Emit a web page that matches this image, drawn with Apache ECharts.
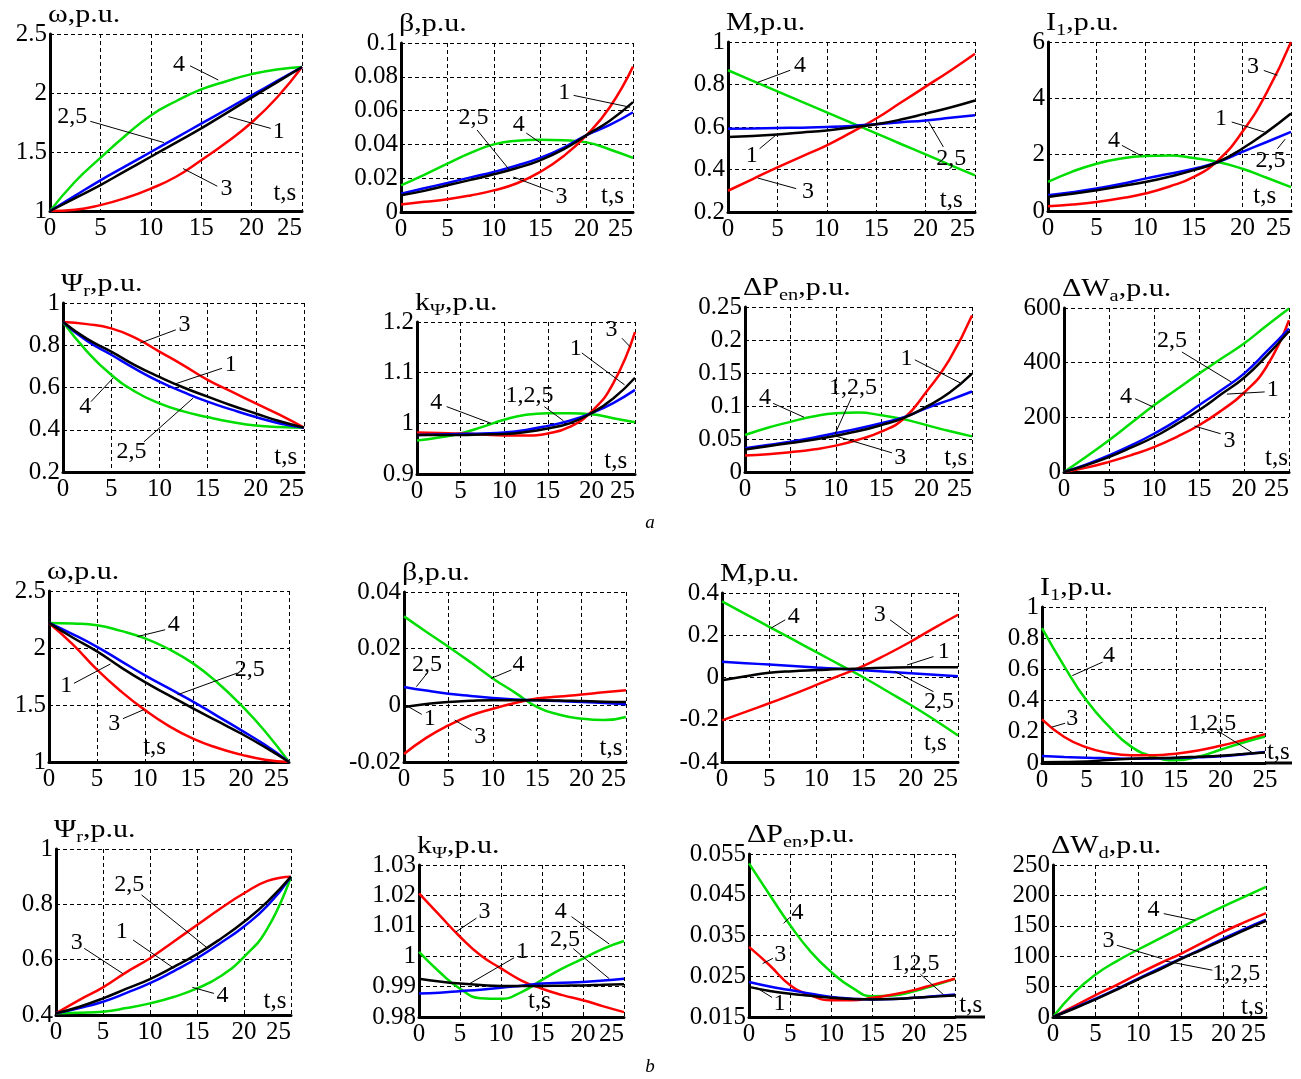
<!DOCTYPE html>
<html lang="en">
<head>
<meta charset="UTF-8" />
<title>Start-up and braking transients, variants 1-5</title>
<script src="https://cdn.jsdelivr.net/npm/echarts@6/dist/echarts.min.js"></script>
<style>
  html, body { margin: 0; padding: 0; background: #fff; }
  #main { width: 1301px; height: 1079px; }
</style>
</head>
<body>
<div id="main"></div>
<script>
// time points, s
const T = [0, 2.5, 5, 7.5, 10, 12.5, 15, 17.5, 20, 22.5, 25];

// ---- a) start-up ----
const omegaA_c1 = [1, 1.11, 1.22, 1.34, 1.46, 1.58, 1.70, 1.83, 1.96, 2.09, 2.22];
const omegaA_c25 = [1, 1.13, 1.26, 1.38, 1.50, 1.62, 1.74, 1.86, 1.98, 2.10, 2.22];
const omegaA_c3 = [1, 1.01, 1.05, 1.11, 1.19, 1.29, 1.43, 1.58, 1.75, 1.96, 2.22];
const omegaA_c4 = [1, 1.25, 1.45, 1.64, 1.81, 1.93, 2.03, 2.10, 2.16, 2.20, 2.22];

const betaA_c1 = [0.0099, 0.0125, 0.0158, 0.019, 0.0223, 0.026, 0.0306, 0.037, 0.0455, 0.054, 0.065];
const betaA_c25 = [0.0108, 0.014, 0.0172, 0.0205, 0.0237, 0.0275, 0.032, 0.038, 0.0455, 0.0515, 0.059];
const betaA_c3 = [0.0045, 0.006, 0.0075, 0.0098, 0.0128, 0.017, 0.0237, 0.033, 0.0455, 0.062, 0.086];
const betaA_c4 = [0.0158, 0.022, 0.0286, 0.035, 0.04, 0.0422, 0.0428, 0.0425, 0.0412, 0.037, 0.032];

const mA_c1 = [0.553, 0.558, 0.565, 0.574, 0.584, 0.598, 0.613, 0.635, 0.663, 0.692, 0.725];
const mA_c25 = [0.592, 0.593, 0.595, 0.597, 0.600, 0.605, 0.613, 0.622, 0.631, 0.643, 0.655];
const mA_c3 = [0.30, 0.355, 0.41, 0.462, 0.514, 0.575, 0.64, 0.715, 0.79, 0.865, 0.945];
const mA_c4 = [0.867, 0.817, 0.768, 0.718, 0.669, 0.619, 0.570, 0.520, 0.471, 0.421, 0.372];

const iA_c1 = [0.5, 0.61, 0.74, 0.88, 1.03, 1.22, 1.45, 1.74, 2.22, 2.8, 3.46];
const iA_c25 = [0.56, 0.67, 0.8, 0.96, 1.15, 1.32, 1.5, 1.74, 2.1, 2.45, 2.81];
const iA_c3 = [0.17, 0.23, 0.32, 0.45, 0.62, 0.87, 1.21, 1.8, 2.81, 4.2, 6.0];
const iA_c4 = [1.03, 1.4, 1.68, 1.86, 1.95, 1.97, 1.88, 1.74, 1.5, 1.18, 0.85];

const psiA_c1 = [0.91, 0.83, 0.77, 0.705, 0.65, 0.6, 0.557, 0.515, 0.477, 0.44, 0.41];
const psiA_c25 = [0.91, 0.82, 0.755, 0.688, 0.628, 0.578, 0.533, 0.495, 0.46, 0.43, 0.41];
const psiA_c3 = [0.91, 0.90, 0.88, 0.835, 0.77, 0.705, 0.636, 0.58, 0.525, 0.47, 0.41];
const psiA_c4 = [0.91, 0.77, 0.66, 0.58, 0.525, 0.487, 0.46, 0.437, 0.42, 0.413, 0.41];

const kA_c1 = [0.977, 0.977, 0.977, 0.978, 0.979, 0.983, 0.99, 1.0, 1.02, 1.049, 1.09];
const kA_c25 = [0.977, 0.978, 0.979, 0.98, 0.982, 0.987, 0.995, 1.005, 1.02, 1.04, 1.066];
const kA_c3 = [0.982, 0.981, 0.98, 0.978, 0.976, 0.976, 0.98, 0.993, 1.023, 1.079, 1.18];
const kA_c4 = [0.966, 0.972, 0.98, 0.993, 1.007, 1.017, 1.02, 1.02, 1.018, 1.01, 1.002];

const pA_c1 = [0.034, 0.039, 0.044, 0.049, 0.055, 0.062, 0.071, 0.082, 0.099, 0.12, 0.149];
const pA_c25 = [0.036, 0.041, 0.046, 0.052, 0.059, 0.066, 0.074, 0.083, 0.097, 0.109, 0.122];
const pA_c3 = [0.025, 0.027, 0.03, 0.034, 0.04, 0.049, 0.061, 0.081, 0.122, 0.17, 0.237];
const pA_c4 = [0.056, 0.067, 0.076, 0.084, 0.089, 0.09, 0.086, 0.08, 0.071, 0.062, 0.054];

const wA_c1 = [0, 25, 55, 90, 128, 175, 226, 285, 345, 425, 515];
const wA_c25 = [0, 28, 61, 98, 140, 188, 244, 300, 360, 440, 525];
const wA_c3 = [0, 16, 37, 62, 91, 128, 171, 225, 290, 385, 555];
const wA_c4 = [0, 57, 116, 180, 244, 302, 360, 415, 470, 535, 598];

// ---- b) braking ----
const omegaB_c1 = [2.22, 2.09, 1.97, 1.83, 1.70, 1.585, 1.47, 1.36, 1.25, 1.13, 1.0];
const omegaB_c25 = [2.22, 2.12, 2.01, 1.885, 1.76, 1.645, 1.53, 1.405, 1.28, 1.15, 1.0];
const omegaB_c3 = [2.22, 2.03, 1.81, 1.62, 1.455, 1.315, 1.205, 1.125, 1.065, 1.02, 1.0];
const omegaB_c4 = [2.22, 2.215, 2.2, 2.15, 2.085, 1.99, 1.865, 1.7, 1.5, 1.27, 1.0];

const betaB_c1 = [-0.0006, 0.0005, 0.0012, 0.0016, 0.0018, 0.0018, 0.0018, 0.0017, 0.0015, 0.0013, 0.0012];
const betaB_c25 = [0.0065, 0.0052, 0.0041, 0.0033, 0.0026, 0.0021, 0.0018, 0.0015, 0.0012, 0.0008, 0.0004];
const betaB_c3 = [-0.0172, -0.0115, -0.0071, -0.0036, -0.0012, 0.0008, 0.0024, 0.0031, 0.0038, 0.0046, 0.0053];
const betaB_c4 = [0.0314, 0.026, 0.0207, 0.0152, 0.0095, 0.0045, -0.0006, -0.0033, -0.0047, -0.0052, -0.0041];

const mB_c1 = [-0.013, 0.006, 0.022, 0.03, 0.035, 0.04, 0.043, 0.046, 0.048, 0.048, 0.048];
const mB_c25 = [0.075, 0.068, 0.061, 0.054, 0.047, 0.041, 0.034, 0.027, 0.02, 0.013, 0.006];
const mB_c3 = [-0.203, -0.163, -0.122, -0.08, -0.035, 0.01, 0.055, 0.11, 0.17, 0.235, 0.297];
const mB_c4 = [0.36, 0.3, 0.24, 0.18, 0.12, 0.06, 0.0, -0.065, -0.13, -0.2, -0.275];

const iB_c1 = [0.005, 0.006, 0.01, 0.02, 0.027, 0.031, 0.034, 0.04, 0.047, 0.057, 0.068];
const iB_c25 = [0.045, 0.039, 0.034, 0.031, 0.028, 0.029, 0.032, 0.037, 0.043, 0.055, 0.07];
const iB_c3 = [0.28, 0.167, 0.1, 0.064, 0.05, 0.05, 0.06, 0.08, 0.11, 0.146, 0.185];
const iB_c4 = [0.865, 0.62, 0.40, 0.235, 0.105, 0.04, 0.017, 0.04, 0.085, 0.13, 0.17];

const psiB_c1 = [0.406, 0.43, 0.46, 0.495, 0.53, 0.573, 0.62, 0.675, 0.737, 0.81, 0.9];
const psiB_c25 = [0.406, 0.425, 0.448, 0.48, 0.515, 0.558, 0.605, 0.66, 0.72, 0.795, 0.9];
const psiB_c3 = [0.406, 0.455, 0.5, 0.555, 0.605, 0.665, 0.725, 0.785, 0.84, 0.885, 0.9];
const psiB_c4 = [0.406, 0.408, 0.412, 0.425, 0.442, 0.465, 0.496, 0.54, 0.61, 0.713, 0.9];

const kB_c1 = [0.9926, 0.9917, 0.991, 0.9905, 0.9902, 0.9902, 0.9902, 0.9903, 0.9904, 0.9906, 0.9908];
const kB_c25 = [0.9877, 0.988, 0.9885, 0.989, 0.9896, 0.9903, 0.991, 0.9913, 0.9915, 0.992, 0.9926];
const kB_c3 = [1.0207, 1.0135, 1.0064, 1.0003, 0.996, 0.992, 0.9893, 0.9872, 0.9855, 0.9835, 0.9816];
const kB_c4 = [1.0014, 0.9948, 0.9893, 0.9862, 0.986, 0.9882, 0.9922, 0.996, 0.9992, 1.0025, 1.005];

const pB_c1 = [0.0224, 0.0214, 0.0207, 0.0202, 0.0197, 0.0194, 0.0193, 0.0194, 0.0197, 0.02, 0.0203];
const pB_c25 = [0.0236, 0.0225, 0.0216, 0.0207, 0.0199, 0.0195, 0.0193, 0.0194, 0.0197, 0.0201, 0.0205];
const pB_c3 = [0.0322, 0.0277, 0.0228, 0.0203, 0.0191, 0.0191, 0.0197, 0.0205, 0.0216, 0.023, 0.0244];
const pB_c4 = [0.0527, 0.045, 0.0375, 0.031, 0.026, 0.0222, 0.0201, 0.0203, 0.0213, 0.0228, 0.0244];

const wD_c1 = [0, 14, 29, 45, 62, 78, 95, 111, 127, 143, 158];
const wD_c25 = [0, 15, 30, 46, 63, 80, 96, 112, 129, 145, 160];
const wD_c3 = [0, 18, 36, 53, 71, 88, 104, 122, 140, 156, 171];
const wD_c4 = [0, 40, 70, 92, 111, 129, 147, 165, 182, 198, 214];

// curve labels: [text, label x, label y, leader from x, y, to x, y] in data units
const notesOmegaA = [['4', 12.8, 2.24, 13.9, 2.23, 16.7, 2.11], ['2,5', 2.2, 1.80, 4.0, 1.76, 11.3, 1.58], ['1', 22.7, 1.67, 21.9, 1.70, 17.7, 1.80], ['3', 17.5, 1.19, 16.6, 1.21, 13.2, 1.36]];
const notesBetaA = [['1', 17.6, 0.0704, 18.6, 0.069, 24.7, 0.062], ['2,5', 7.8, 0.056, 8.2, 0.0485, 11.7, 0.0248], ['4', 12.7, 0.0515, 13.5, 0.0467, 15, 0.041], ['3', 17.3, 0.0089, 16.4, 0.0118, 12.1, 0.0207]];
const notesMA = [['4', 7.3, 0.89, 6.3, 0.867, 3.0, 0.81], ['1', 2.4, 0.467, 3.2, 0.498, 4.8, 0.56], ['3', 8.1, 0.294, 6.9, 0.31, 3.0, 0.36], ['2,5', 22.6, 0.451, 21.8, 0.506, 20.3, 0.625]];
const notesIA = [['3', 21.1, 5.11, 22.2, 4.99, 23.6, 4.82], ['1', 17.8, 3.28, 18.9, 3.16, 22.3, 2.8], ['2,5', 22.9, 1.8, 23.6, 2.21, 24.4, 2.55], ['4', 6.8, 2.51, 7.6, 2.33, 9.6, 1.96]];
const notesPsiA = [['3', 12.6, 0.897, 11.7, 0.873, 8, 0.81], ['1', 17.4, 0.707, 16.5, 0.691, 11.5, 0.615], ['4', 2.3, 0.509, 2.9, 0.533, 5.2, 0.645], ['2,5', 7.1, 0.295, 8.4, 0.343, 13.5, 0.55]];
const notesKA = [['3', 22.3, 1.185, 23.5, 1.168, 24.5, 1.15], ['1', 18.2, 1.148, 18.9, 1.139, 23.8, 1.076], ['1,2,5', 12.9, 1.054, 14.6, 1.033, 16.8, 1.005], ['4', 2.2, 1.041, 3.4, 1.033, 8.5, 1.0]];
const notesPA = [['1', 17.8, 0.172, 18.7, 0.17, 23.7, 0.135], ['1,2,5', 11.9, 0.127, 11.7, 0.112, 9.9, 0.057], ['4', 2.2, 0.112, 3.1, 0.104, 6.5, 0.083], ['3', 17.1, 0.021, 16.2, 0.029, 10.1, 0.054]];
const notesWA = [['2,5', 12, 482, 13.1, 439, 18.6, 329], ['1', 23.2, 300, 22.3, 293, 18.1, 285], ['4', 6.9, 274, 7.9, 268, 9.9, 238], ['3', 18.4, 116, 17.4, 140, 14.5, 168]];
const notesOmegaB = [['4', 13, 2.2, 12.1, 2.16, 9.2, 2.1], ['2,5', 20.9, 1.81, 19.6, 1.78, 13.4, 1.59], ['1', 1.8, 1.67, 2.6, 1.69, 6.4, 1.86], ['3', 6.8, 1.34, 7.7, 1.38, 9.9, 1.46]];
const notesBetaB = [['2,5', 2.6, 0.0143, 2.6, 0.0113, 1.4, 0.0066], ['4', 12.9, 0.0143, 12.1, 0.0125, 9.8, 0.0095], ['1', 2.9, -0.0046, 2.0, -0.0032, 0.5, -0.0005], ['3', 8.6, -0.0111, 7.6, -0.0088, 5.7, -0.0052]];
const notesMB = [['4', 7.6, 0.289, 6.7, 0.273, 5.2, 0.234], ['3', 16.7, 0.297, 17.8, 0.273, 20.2, 0.194], ['1', 23.5, 0.123, 22.4, 0.099, 19.6, 0.059], ['2,5', 23, -0.115, 22.4, -0.067, 18.3, 0.028]];
const notesIB = [['4', 7.5, 0.685, 6.8, 0.647, 3.4, 0.56], ['3', 3.4, 0.287, 2.6, 0.255, 1.1, 0.23], ['1,2,5', 19.1, 0.25, 19.6, 0.21, 23.7, 0.062]];
const notesPsiB = [['2,5', 7.8, 0.87, 9.1, 0.834, 16, 0.645], ['1', 7.0, 0.70, 8.2, 0.671, 12.5, 0.57], ['3', 2.2, 0.66, 3.0, 0.641, 7.1, 0.55], ['4', 17.7, 0.468, 16.8, 0.478, 14.5, 0.5]];
const notesKB = [['3', 8, 1.0146, 7, 1.0125, 4.5, 1.008], ['1', 12.6, 1.0015, 11.6, 0.9995, 6.2, 0.991], ['4', 17.3, 1.0146, 18.6, 1.013, 23.2, 1.004], ['2,5', 17.8, 1.0053, 18.8, 1.0025, 23.2, 0.9926]];
const notesPB = [['4', 5.9, 0.0405, 5.0, 0.0395, 4.2, 0.038], ['3', 3.8, 0.0302, 2.9, 0.0294, 1.65, 0.0281], ['1', 3.7, 0.0182, 2.8, 0.0198, 0.9, 0.0222], ['1,2,5', 20.2, 0.028, 20.8, 0.0255, 23.6, 0.0205]];
const notesWD = [['4', 11.8, 177, 13, 170, 16.7, 159], ['3', 6.5, 126, 7.5, 118, 12.8, 96], ['1,2,5', 21.5, 71, 18.7, 77, 13.2, 92]];

const SERIF = '"Liberation Serif", "Times New Roman", serif';
const COLORS = ['#00dd00', '#ff0000', '#0000ff', '#000000']; // 4, 3, 2-5, 1

// rect = [left, top, width, height] of each plot box
const panels = [
  { title: '{m|ω,p.u.}', rect: [50, 34, 252, 177], y: [1, 2.5, 0.5], lines: [omegaA_c4, omegaA_c3, omegaA_c25, omegaA_c1], notes: notesOmegaA, ts: [23.3, 1.15] },
  { title: '{m|β,p.u.}', rect: [401, 43, 232, 169], y: [0, 0.1, 0.02], lines: [betaA_c4, betaA_c3, betaA_c25, betaA_c1], notes: notesBetaA, ts: [22.8, 0.009] },
  { title: '{m|M,p.u.}', rect: [728, 42, 247, 170], y: [0.2, 1, 0.2], lines: [mA_c4, mA_c3, mA_c25, mA_c1], notes: notesMA, ts: [22.6, 0.255] },
  { title: '{m|I}{s|1}{m|,p.u.}', rect: [1048, 42, 243, 169], y: [0, 6, 2], lines: [iA_c4, iA_c3, iA_c25, iA_c1], notes: notesIA, ts: [22.3, 0.5] },
  { title: '{m|Ψ}{s|r}{m|,p.u.}', rect: [63, 303, 241, 169], y: [0.2, 1, 0.2], lines: [psiA_c4, psiA_c3, psiA_c25, psiA_c1], notes: notesPsiA, ts: [23.1, 0.27] },
  { title: '{m|k}{s|Ψ}{m|,p.u.}', rect: [417, 322, 218, 152], y: [0.9, 1.2, 0.1], lines: [kA_c4, kA_c3, kA_c25, kA_c1], notes: notesKA, ts: [22.8, 0.924] },
  { title: '{m|ΔP}{s|en}{m|,p.u.}', rect: [745, 307, 227, 165], y: [0, 0.25, 0.05], lines: [pA_c4, pA_c3, pA_c25, pA_c1], notes: notesPA, ts: [23.2, 0.021] },
  { title: '{m|ΔW}{s|a}{m|,p.u.}', rect: [1064, 308, 225, 164], y: [0, 600, 200], lines: [wA_c4, wA_c3, wA_c25, wA_c1], notes: notesWA, ts: [23.6, 49] },
  { title: '{m|ω,p.u.}', rect: [49, 591, 240, 171], y: [1, 2.5, 0.5], lines: [omegaB_c4, omegaB_c3, omegaB_c25, omegaB_c1], notes: notesOmegaB, ts: [11, 1.13] },
  { title: '{m|β,p.u.}', rect: [404, 592, 222, 170], y: [-0.02, 0.04, 0.02], lines: [betaB_c4, betaB_c3, betaB_c25, betaB_c1], notes: notesBetaB, ts: [23.3, -0.0153] },
  { title: '{m|M,p.u.}', rect: [722, 593, 236, 169], y: [-0.4, 0.4, 0.2], lines: [mB_c4, mB_c3, mB_c25, mB_c1], notes: notesMB, ts: [22.6, -0.31] },
  { title: '{m|I}{s|1}{m|,p.u.}', rect: [1042, 607, 223, 156], y: [0, 1, 0.2], lines: [iB_c4, iB_c3, iB_c25, iB_c1], notes: notesIB, ts: [26.5, 0.07], ext: 27 },
  { title: '{m|Ψ}{s|r}{m|,p.u.}', rect: [56, 849, 235, 166], y: [0.4, 1, 0.2], lines: [psiB_c4, psiB_c3, psiB_c25, psiB_c1], notes: notesPsiB, ts: [23.3, 0.448] },
  { title: '{m|k}{s|Ψ}{m|,p.u.}', rect: [419, 865, 205, 152], y: [0.98, 1.03, 0.01], lines: [kB_c4, kB_c3, kB_c25, kB_c1], notes: notesKB, ts: [14.7, 0.985] },
  { title: '{m|ΔP}{s|en}{m|,p.u.}', rect: [749, 854, 206, 163], y: [0.015, 0.055, 0.01], lines: [pB_c4, pB_c3, pB_c25, pB_c1], notes: notesPB, ts: [26.9, 0.0179], ext: 30 },
  { title: '{m|ΔW}{s|d}{m|,p.u.}', rect: [1053, 865, 213, 152], y: [0, 250, 50], lines: [wD_c4, wD_c3, wD_c25, wD_c1], notes: notesWD, ts: [23.4, 16] }
];

const chart = echarts.init(document.getElementById('main'), null, { renderer: 'canvas' });

const axisLine = { show: true, onZero: false, lineStyle: { color: '#000', width: 3 } };
const splitLine = { show: true, lineStyle: { color: '#000', width: 1, type: [4, 3] } };
const tickFont = { color: '#000', fontSize: 25, fontFamily: SERIF };

const grid = [], xAxis = [], yAxis = [], series = [];
panels.forEach((p, i) => {
  const [l, t, w, h] = p.rect;
  grid.push({ left: l, top: t, width: w, height: h, containLabel: false, outerBoundsMode: 'none' });
  xAxis.push({
    type: 'value', gridIndex: i, min: 0, max: 25, interval: 5,
    axisLine, splitLine, axisTick: { show: false },
    axisLabel: Object.assign({ margin: 5, alignMaxLabel: p.ext ? 'center' : 'right' }, tickFont)
  });
  yAxis.push({
    type: 'value', gridIndex: i, min: p.y[0], max: p.y[1], interval: p.y[2],
    axisLine, splitLine, axisTick: { show: false },
    axisLabel: Object.assign({ margin: 3 }, tickFont)
  });
  p.lines.forEach((arr, k) => {
    series.push({
      type: 'line', xAxisIndex: i, yAxisIndex: i,
      data: T.map((x, j) => [x, arr[j]]),
      smooth: 0.5, showSymbol: false, silent: true,
      lineStyle: { color: COLORS[k], width: 2.5 }, z: 3 + k
    });
  });
});

chart.setOption({
  animation: false,
  backgroundColor: '#fff',
  grid, xAxis, yAxis, series
});

// titles, curve numbers with leader lines, "t,s" marks, sub-figure letters
const titleRich = {
  m: { fontSize: 25, fontFamily: SERIF, fill: '#000', lineHeight: 25, padding: [0, 0, 3, 0], verticalAlign: 'bottom' },
  s: { fontSize: 17, fontFamily: SERIF, fill: '#000', lineHeight: 17, verticalAlign: 'bottom' }
};
const graphic = [];
panels.forEach((p, i) => {
  const [l, t, w, h] = p.rect;
  const px = (x, y) => chart.convertToPixel({ gridIndex: i }, [x, y]);
  graphic.push({
    type: 'text', x: l - 2, y: t - 28, scaleX: 1.2, z: 100,
    style: { text: p.title, rich: titleRich, fill: '#000', verticalAlign: 'top' }
  });
  p.notes.forEach(([txt, tx, ty, x1, y1, x2, y2]) => {
    const a = px(x1, y1), b = px(x2, y2), c = px(tx, ty);
    graphic.push({ type: 'line', z: 100, shape: { x1: a[0], y1: a[1], x2: b[0], y2: b[1] }, style: { stroke: '#000', lineWidth: 1 } });
    graphic.push({ type: 'text', x: c[0], y: c[1], z: 101, style: { text: txt, fontSize: 24, fontFamily: SERIF, fill: '#000', align: 'center', verticalAlign: 'middle' } });
  });
  const s = px(p.ts[0], p.ts[1]);
  graphic.push({ type: 'text', x: s[0], y: s[1], z: 101, style: { text: 't,s', fontSize: 25, fontFamily: SERIF, fill: '#000', align: 'center', verticalAlign: 'middle' } });
  if (p.ext) {
    graphic.push({ type: 'line', z: 99, shape: { x1: l + w, y1: t + h, x2: l + w + p.ext, y2: t + h }, style: { stroke: '#000', lineWidth: 3 } });
  }
});
graphic.push({ type: 'text', x: 650, y: 523, style: { text: 'a', fontSize: 19, fontStyle: 'italic', fontFamily: SERIF, fill: '#000', align: 'center', verticalAlign: 'middle' } });
graphic.push({ type: 'text', x: 650, y: 1067, style: { text: 'b', fontSize: 19, fontStyle: 'italic', fontFamily: SERIF, fill: '#000', align: 'center', verticalAlign: 'middle' } });

chart.setOption({ graphic });

window.onresize = function () {
  chart.resize();
};
</script>
</body>
</html>
